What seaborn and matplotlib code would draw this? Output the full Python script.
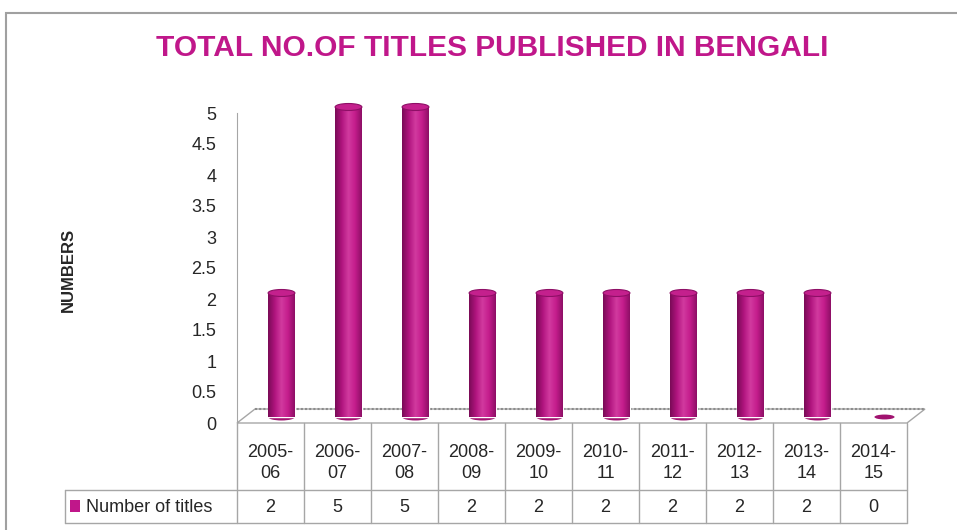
import numpy as np
import matplotlib.pyplot as plt
import seaborn as sns
from matplotlib.patches import Ellipse, Polygon, Rectangle
from matplotlib.lines import Line2D
from matplotlib.colors import LinearSegmentedColormap
from matplotlib.transforms import ScaledTranslation, blended_transform_factory

# Chart data
periods = ["2005-06", "2006-07", "2007-08", "2008-09", "2009-10",
           "2010-11", "2011-12", "2012-13", "2013-14", "2014-15"]
titles = [2, 5, 5, 2, 2, 2, 2, 2, 2, 0]
y_ticks = [0, 0.5, 1, 1.5, 2, 2.5, 3, 3.5, 4, 4.5, 5]
series_name = "Number of titles"

BAR = "#C0178A"
EDGE = "#A6A6A6"

sns.set_style("white")
plt.rcParams["font.family"] = ["Liberation Sans", "DejaVu Sans"]

fig = plt.figure(figsize=(9.57, 5.30), dpi=100)
# plot area in pixels: x 237..907, y 100..423
ax = fig.add_axes([237 / 957, 1 - 423 / 530, 670 / 957, 323 / 530])

sns.barplot(x=periods, y=titles, color=BAR, width=0.4, saturation=1, ax=ax, zorder=2)
bars = list(ax.patches)

# bars stand a little behind the front plane of the 3d floor
off = ax.transData + ScaledTranslation(11 / 100, 6 / 100, fig.dpi_scale_trans)
cyl = LinearSegmentedColormap.from_list(
    "cyl", ["#7A0B57", "#B0147E", "#D23A9F", "#C41C8C", "#8E0F66"])
grad = np.linspace(0, 1, 64)[None, :]
ell_h = 7 / 62

for b in bars:
    b.set_transform(off)
    x0, w, h = b.get_x(), b.get_width(), b.get_height()
    xc = x0 + w / 2
    if h > 0:
        im = ax.imshow(grad, cmap=cyl, extent=[x0, x0 + w, 0, h], aspect="auto",
                       transform=off, zorder=2.1)
        im.set_clip_path(b)
        ax.add_patch(Ellipse((xc, 0), w, ell_h, transform=off, facecolor="#A0126F",
                             edgecolor="none", zorder=1.9))
        ax.add_patch(Ellipse((xc, h), w, ell_h, transform=off, facecolor="#C4208D",
                             edgecolor="#8E0F66", lw=0.8, zorder=2.5))
    else:
        ax.add_patch(Ellipse((xc, 0), w * 0.75, ell_h * 0.7, transform=off,
                             facecolor="#A0126F", edgecolor="none", zorder=2.5))

ax.set_xlim(-0.5, len(periods) - 0.5)
ax.set_ylim(0, 323 / 62)

# y axis
ax.set_yticks(y_ticks)
ax.set_yticklabels([f"{v:g}" for v in y_ticks], fontsize=13)
ax.tick_params(axis="y", length=0, pad=15)
ax.set_xticks([])
for s in ["top", "right", "bottom"]:
    ax.spines[s].set_visible(False)
ax.spines["left"].set_color(EDGE)
ax.spines["left"].set_bounds(0, 5)

# 3d floor
dx, dy = 18 / 670, 14 / 323
ax.add_patch(Polygon([(0, 0), (dx, dy), (1 + dx, dy), (1, 0)], closed=True,
                     transform=ax.transAxes, facecolor="white", edgecolor=EDGE,
                     lw=1, clip_on=False, zorder=1))
ax.add_line(Line2D([dx, 1 + dx], [dy, dy], transform=ax.transAxes, color="#8C8C8C",
                   lw=1.5, ls=(0, (1, 1)), clip_on=False, zorder=1.2))

# data table under the chart
bt = blended_transform_factory(ax.transData, ax.transAxes)
row_sep = (423 - 490) / 323
bottom = (423 - 523) / 323
leg_left = (65 - 237) / 670
for i in range(len(periods) + 1):
    ax.add_line(Line2D([i - 0.5, i - 0.5], [0, bottom], transform=bt, color=EDGE,
                       lw=1, clip_on=False))
for yy in [row_sep, bottom]:
    ax.add_line(Line2D([leg_left, 1], [yy, yy], transform=ax.transAxes, color=EDGE,
                       lw=1, clip_on=False))
ax.add_line(Line2D([leg_left, leg_left], [row_sep, bottom], transform=ax.transAxes,
                   color=EDGE, lw=1, clip_on=False))

for i, (p, v) in enumerate(zip(periods, titles)):
    a, b2 = p.split("-")
    ax.text(i, (423 - 463) / 323, f"{a}-\n{b2}", transform=bt, ha="center",
            va="center", fontsize=13, linespacing=1.3)
    ax.text(i, (423 - 507) / 323, str(v), transform=bt, ha="center", va="center",
            fontsize=13)

ax.add_patch(Rectangle(((70 - 237) / 670, (423 - 512) / 323), 10 / 670, 12 / 323,
                       transform=ax.transAxes, facecolor=BAR, edgecolor="none",
                       clip_on=False))
ax.text((86 - 237) / 670, (423 - 507) / 323, series_name, transform=ax.transAxes,
        ha="left", va="center", fontsize=13)

# titles
fig.text(492 / 957, 1 - 48 / 530, "TOTAL NO.OF TITLES PUBLISHED IN BENGALI",
         ha="center", va="center", fontsize=21.5, fontweight="bold", color=BAR)
fig.text(68 / 957, 1 - 270 / 530, "NUMBERS", rotation=90, ha="center", va="center",
         fontsize=12, fontweight="bold")

# chart frame
fig.add_artist(Rectangle((6 / 957, -0.5), 1.5, 1.5 - 13 / 530, transform=fig.transFigure,
                         fill=False, edgecolor="#A0A0A0", lw=1.5))

fig.savefig("out.png", dpi=100)
